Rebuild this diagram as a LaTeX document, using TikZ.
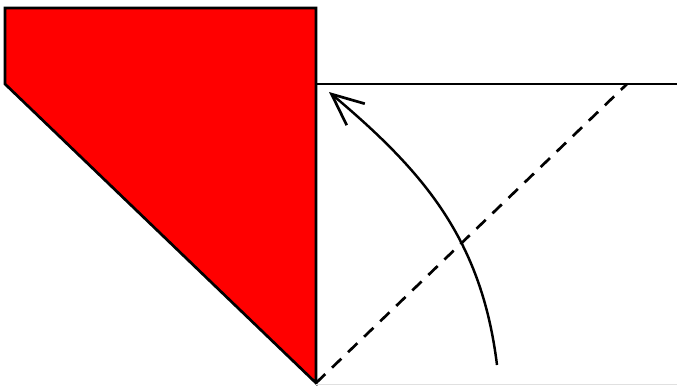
\documentclass[tikz,border=0pt]{standalone}
\usepackage{xcolor}
\definecolor{flapred}{RGB}{255,0,0}
\usetikzlibrary{arrows.meta,calc}

\begin{document}
\begin{tikzpicture}[
  x=0.3mm, y=0.3mm,
  edge/.style={line width=2.3pt, draw=black, line join=miter},
  fold/.style={line width=2.3pt, draw=black, dash pattern=on 11pt off 8pt},
  turn/.style={line width=2.1pt, draw=black,
    -{Straight Barb[length=27pt, width=24pt, line width=2.3pt]}}
]
\useasboundingbox (0,0) rectangle (677,385);

\coordinate (tl) at (5,377);
\coordinate (tr) at (316,377);
\coordinate (hinge) at (316,2);
\coordinate (bl) at (5,301);
\coordinate (ledge) at (316,301);
\coordinate (redge) at (677,301);
\coordinate (crease) at (627,301);
\coordinate (base) at (677,0.4);
\coordinate (start) at (497,20);
\coordinate (tip) at (329,293);

\filldraw[edge, fill=flapred] (tl) -- (tr) -- (hinge) -- (bl) -- cycle;
\draw[edge] (ledge) -- (redge);
\draw[fold] (hinge) -- (crease);
\draw[line width=0.6pt, black!12] (hinge |- base) -- (base);
\draw[turn] (start) to[out=97, in=-40] (tip);
\end{tikzpicture}
\end{document}
